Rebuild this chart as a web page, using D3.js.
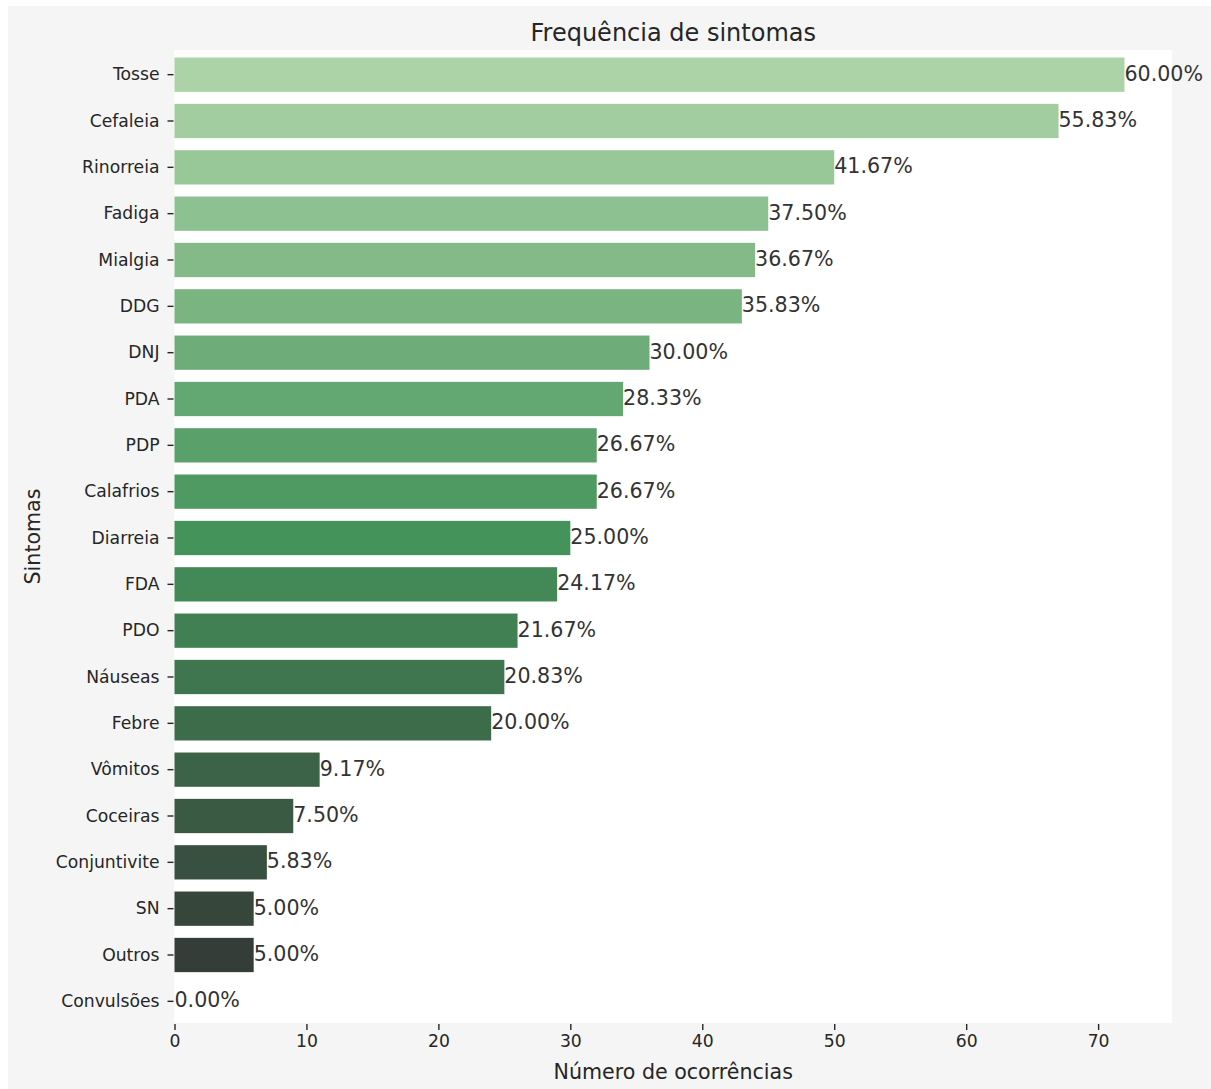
<!DOCTYPE html>
<html>
<head>
<meta charset="utf-8">
<script src="https://cdn.jsdelivr.net/npm/d3@7"></script>
<style>
  html, body { margin: 0; padding: 0; background: #ffffff; }
  svg { display: block; font-family: "DejaVu Sans", sans-serif; }
</style>
</head>
<body>
<svg id="chart" width="1211" height="1089"></svg>
<script>
const categories = ["Tosse","Cefaleia","Rinorreia","Fadiga","Mialgia","DDG","DNJ","PDA","PDP","Calafrios","Diarreia","FDA","PDO","Náuseas","Febre","Vômitos","Coceiras","Conjuntivite","SN","Outros","Convulsões"];
const counts = [72, 67, 50, 45, 44, 43, 36, 34, 32, 32, 30, 29, 26, 25, 24, 11, 9, 7, 6, 6, 0];
const percentLabels = ["60.00%","55.83%","41.67%","37.50%","36.67%","35.83%","30.00%","28.33%","26.67%","26.67%","25.00%","24.17%","21.67%","20.83%","20.00%","9.17%","7.50%","5.83%","5.00%","5.00%","0.00%"];
const xTicks = [0, 10, 20, 30, 40, 50, 60, 70];
const titleText = "Frequência de sintomas";
const xLabel = "Número de ocorrências";
const yLabel = "Sintomas";

const svg = d3.select("#chart");
const plot = { left: 174.5, right: 1172, top: 50, bottom: 1023 };

// figure background
svg.append("rect").attr("x", 8).attr("y", 6).attr("width", 1211 - 8).attr("height", 1089 - 6).attr("fill", "#f5f5f5");
// axes background
svg.append("rect").attr("x", plot.left).attr("y", plot.top)
  .attr("width", plot.right - plot.left).attr("height", plot.bottom - plot.top).attr("fill", "#ffffff");

const xMax = d3.max(counts) * 1.05;
const x = d3.scaleLinear().domain([0, xMax]).range([plot.left, plot.right]);
const y = d3.scaleBand().domain(categories).range([plot.top + 1.5, plot.bottom + 1.5]).paddingInner(0.26).paddingOuter(0.13);

// palette: Greens-based dark blend, desaturated like seaborn bars
const greensCmap = d3.scaleLinear()
  .domain([0, .125, .25, .375, .5, .625, .75, .875, 1])
  .range(["#f7fcf5","#e5f5e0","#c7e9c0","#a1d99b","#74c476","#41ab5d","#238b45","#006d2c","#00441b"])
  .interpolate(d3.interpolateRgb);
const anchors = [greensCmap(0.36), greensCmap(2/3), "#333333"];
const blend = d3.piecewise(d3.interpolateRgb, anchors);
const n = categories.length;
const colors = categories.map((c, i) => {
  const h = d3.hsl(blend(i / (n - 1)));
  h.s *= 0.75;
  return h.formatHex();
});

// bars
svg.append("g").selectAll("rect")
  .data(categories)
  .join("rect")
  .attr("x", x(0))
  .attr("y", d => y(d))
  .attr("width", (d, i) => x(counts[i]) - x(0))
  .attr("height", y.bandwidth())
  .attr("fill", (d, i) => colors[i]);

// value labels
svg.append("g").selectAll("text")
  .data(categories)
  .join("text")
  .attr("x", (d, i) => x(counts[i]))
  .attr("y", d => y(d) + y.bandwidth() / 2 - 1)
  .attr("dominant-baseline", "central")
  .attr("font-size", "20.6px")
  .attr("fill", "#333333")
  .text((d, i) => percentLabels[i]);

// y axis
const yAxis = d3.axisLeft(y).tickSize(6).tickPadding(8);
const yg = svg.append("g").attr("transform", `translate(${plot.left - 1},0)`).call(yAxis);
yg.select(".domain").remove();
yg.selectAll(".tick line").attr("stroke", "#262626").attr("stroke-width", 1.4);
yg.selectAll(".tick text").attr("font-size", "17.2px").attr("fill", "#262626").attr("font-family", "DejaVu Sans, sans-serif");

// x axis
const xAxis = d3.axisBottom(x).tickValues(xTicks).tickSize(6).tickPadding(5);
const xg = svg.append("g").attr("transform", `translate(0,${plot.bottom + 1})`).call(xAxis);
xg.select(".domain").remove();
xg.selectAll(".tick line").attr("stroke", "#262626").attr("stroke-width", 1.4);
xg.selectAll(".tick text").attr("font-size", "17.2px").attr("fill", "#262626").attr("font-family", "DejaVu Sans, sans-serif");

// title
svg.append("text").attr("x", (plot.left + plot.right) / 2).attr("y", 41)
  .attr("text-anchor", "middle").attr("font-size", "24px").attr("fill", "#262626").text(titleText);
// axis labels
svg.append("text").attr("x", (plot.left + plot.right) / 2).attr("y", 1079)
  .attr("text-anchor", "middle").attr("font-size", "20.6px").attr("fill", "#262626").text(xLabel);
svg.append("text").attr("transform", `translate(40,${(plot.top + plot.bottom) / 2}) rotate(-90)`)
  .attr("text-anchor", "middle").attr("font-size", "20.6px").attr("fill", "#262626").text(yLabel);
</script>
</body>
</html>
